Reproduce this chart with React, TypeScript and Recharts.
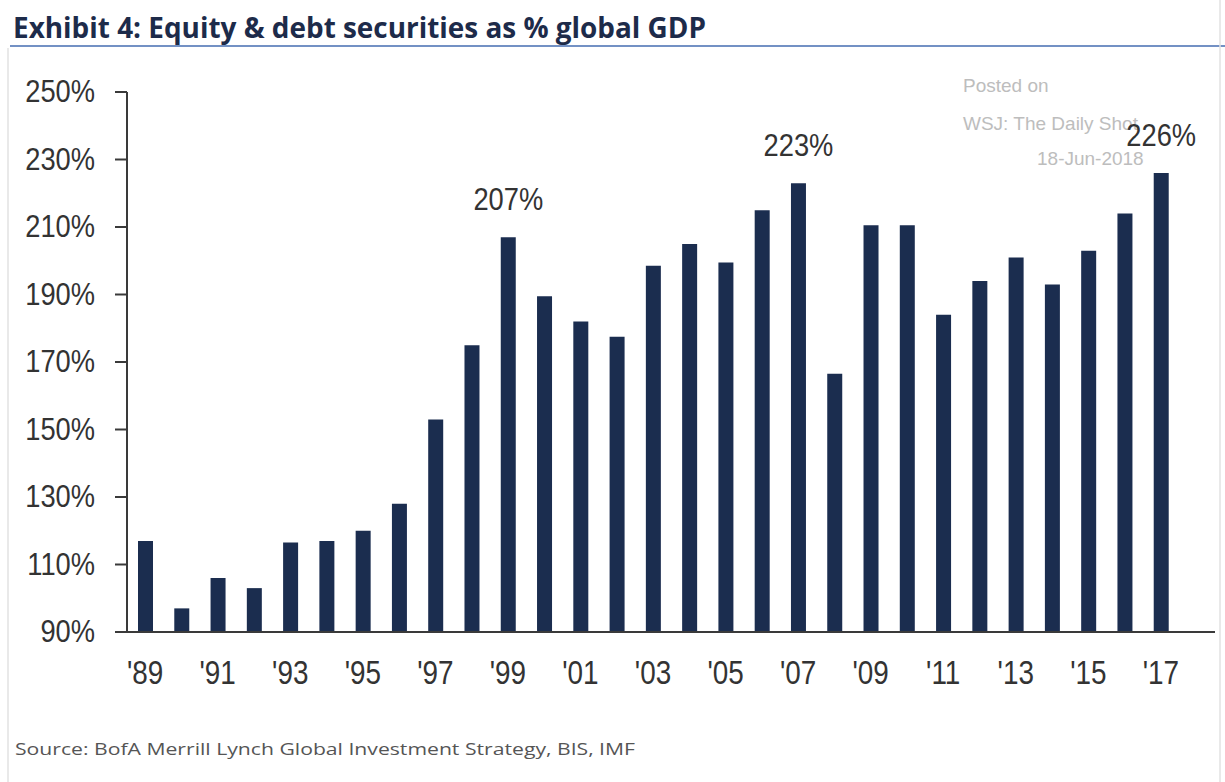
import { BarChart, Bar, XAxis, YAxis, LabelList } from 'recharts'

// chart data
const years = [
  "'89", "'90", "'91", "'92", "'93", "'94", "'95", "'96", "'97", "'98",
  "'99", "'00", "'01", "'02", "'03", "'04", "'05", "'06", "'07", "'08",
  "'09", "'10", "'11", "'12", "'13", "'14", "'15", "'16", "'17",
]
const pctOfGdp = [
  117, 97, 106, 103, 116.5, 117, 120, 128, 153, 175,
  207, 189.5, 182, 177.5, 198.5, 205, 199.5, 215, 223, 166.5,
  210.5, 210.5, 184, 194, 201, 193, 203, 214, 226,
]
const annotated = ["'99", "'07", "'17"]
const yTicks = [90, 110, 130, 150, 170, 190, 210, 230, 250]

const W = 1225
const H = 782
const NAVY = '#1b2d4f'
const AXIS = '#3a3a3a'
const SANS = '"Liberation Sans", Arial, sans-serif'
const NARROW = '"Liberation Sans Narrow", "Open Sans", sans-serif'

const data = years.map((y, i) => ({ year: y, value: pctOfGdp[i] }))

// the original's text is a bit tall and narrow, so squeeze it horizontally
function YTick(props: any) {
  const { x, y, payload } = props
  return (
    <text
      transform={`translate(${x},${y}) scale(0.88,1)`}
      textAnchor="end"
      dy="0.33em"
      fontSize={31}
      fontFamily={SANS}
      fill="#333"
    >
      {payload.value}%
    </text>
  )
}

function XTick(props: any) {
  const { x, y, payload } = props
  return (
    <text
      transform={`translate(${x},${y}) scale(0.82,1)`}
      textAnchor="middle"
      dy="0.71em"
      fontSize={34}
      fontFamily={SANS}
      fill="#333"
    >
      {payload.value}
    </text>
  )
}

function PeakLabel(props: any) {
  const { x, y, width, value, index } = props
  if (!annotated.includes(years[index])) return null
  return (
    <text
      transform={`translate(${x + width / 2},${y - 27}) scale(0.88,1)`}
      textAnchor="middle"
      fontSize={31}
      fontFamily={SANS}
      fill="#333"
    >
      {Math.round(value)}%
    </text>
  )
}

export default function App() {
  return (
    <div style={{ position: 'absolute', left: 0, top: 0, width: W, height: H, background: '#fff' }}>
      <svg width={W} height={H} style={{ position: 'absolute', left: 0, top: 0 }}>
        <text
          x={13}
          y={38}
          fontSize={29}
          fontWeight="bold"
          fontFamily={NARROW}
          fill="#1d2b4a"
          textLength={693}
          lengthAdjust="spacingAndGlyphs"
        >
          Exhibit 4: Equity &amp; debt securities as % global GDP
        </text>
        <line x1={10} x2={W} y1={46} y2={46} stroke="#7391c4" strokeWidth={2} />
        <line x1={8} x2={8} y1={48} y2={H} stroke="#e2e2e2" strokeWidth={1.5} />
        <line x1={1220} x2={1220} y1={0} y2={H} stroke="#e2e2e2" strokeWidth={1.5} />

        {/* watermark */}
        <g fontFamily={SANS} fontSize={19} fill="#bdbdbd">
          <text x={963} y={92}>Posted on</text>
          <text x={963} y={130}>WSJ: The Daily Shot</text>
          <text x={1037} y={165}>18-Jun-2018</text>
        </g>

        <text
          x={15}
          y={755}
          fontSize={17}
          fontFamily={NARROW}
          fill="#555"
          textLength={620}
          lengthAdjust="spacingAndGlyphs"
        >
          Source:  BofA Merrill Lynch Global Investment Strategy, BIS, IMF
        </text>
      </svg>

      <div style={{ position: 'absolute', left: 0, top: 0 }}>
        <BarChart
          width={W}
          height={H}
          data={data}
          margin={{ top: 92, right: 10, bottom: 100, left: 0 }}
        >
          <XAxis
            dataKey="year"
            interval={1}
            height={50}
            padding={{ left: 0, right: 36 }}
            axisLine={{ stroke: AXIS, strokeWidth: 2 }}
            tickLine={false}
            tickSize={0}
            tickMargin={28}
            tick={XTick}
          />
          <YAxis
            type="number"
            domain={[90, 250]}
            ticks={yTicks}
            width={127}
            interval={0}
            axisLine={{ stroke: AXIS, strokeWidth: 2 }}
            tickLine={{ stroke: AXIS, strokeWidth: 2 }}
            tickSize={12}
            tickMargin={20}
            tick={YTick}
          />
          <Bar dataKey="value" fill={NAVY} barSize={15} isAnimationActive={false}>
            <LabelList dataKey="value" content={PeakLabel} />
          </Bar>
        </BarChart>
      </div>
    </div>
  )
}
